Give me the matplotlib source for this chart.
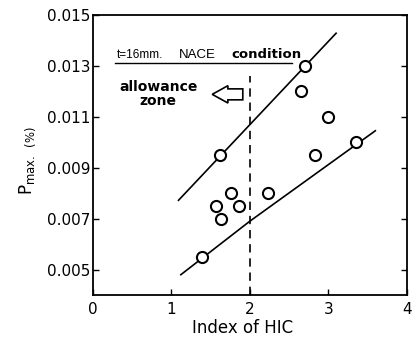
import numpy as np
import matplotlib
matplotlib.use('Agg')
import matplotlib.pyplot as plt
from matplotlib.patches import FancyArrow

plt.rcParams['font.family'] = ['DejaVu Sans']
plt.rcParams['mathtext.fontset'] = 'dejavusans'

# measured points: index of HIC vs Pmax
hic = [2.7, 2.65, 3.0, 3.35, 2.83, 1.62, 1.76, 2.23, 1.57, 1.86, 1.63, 1.39]
pmax = [0.0130, 0.0120, 0.0110, 0.0100, 0.0095, 0.0095, 0.0080, 0.0080,
        0.0075, 0.0075, 0.0070, 0.0055]

# upper and lower bounding lines
upper_x = [1.09, 3.1]
upper_y = [0.00772, 0.01428]
lower_x = [1.12, 2.0, 3.6]
lower_y = [0.0048, 0.0069, 0.01045]

xticks = [0, 1, 2, 3, 4]
yticks = [0.005, 0.007, 0.009, 0.011, 0.013, 0.015]
ytick_labels = ['0.005', '0.007', '0.009', '0.011', '0.013', '0.015']

fig = plt.figure(figsize=(4.16, 3.38), dpi=100)
ax = fig.add_axes([0.2236, 0.127, 0.754, 0.829])

ax.plot(upper_x, upper_y, color='black', lw=1.2)
ax.plot(lower_x, lower_y, color='black', lw=1.2)
ax.plot(hic, pmax, 'o', mfc='white', mec='black', mew=1.5, ms=8, zorder=3)

# allowance limit
ax.plot([2.0, 2.0], [0.004, 0.0126], color='black', lw=1.2, ls=(0, (5, 3.5)))

# condition label with underline
ax.plot([0.28, 2.54], [0.01310, 0.01310], color='black', lw=1.0)
ax.text(0.31, 0.01318, 't=16mm.', fontsize=8.5, ha='left', va='bottom',
        family=['Liberation Sans'])
ax.text(1.1, 0.01318, 'NACE', fontsize=9.5, ha='left', va='bottom',
        family=['Liberation Sans'])
ax.text(1.76, 0.01318, 'condition', fontsize=9.5, ha='left', va='bottom',
        fontweight='bold')

ax.text(0.83, 0.0119, 'allowance\nzone', fontsize=10, ha='center', va='center',
        fontweight='bold', linespacing=0.95)
ax.add_patch(FancyArrow(1.91, 0.01188, -0.39, 0, width=0.00043,
                        head_width=0.00068, head_length=0.2,
                        length_includes_head=True, fc='white', ec='black', lw=1.2))

ax.set_xlim(0, 4)
ax.set_ylim(0.004, 0.015)
ax.set_xticks(xticks)
ax.set_yticks(yticks)
ax.set_yticklabels(ytick_labels)
ax.tick_params(direction='in', length=4, width=1, labelsize=11,
               right=True, top=False)
ax.tick_params(axis='y', pad=2)
ax.tick_params(axis='x', pad=5)
for s in ax.spines.values():
    s.set_linewidth(1.3)

ax.set_xlabel('Index of HIC', fontsize=12)
ax.xaxis.set_label_coords(0.476, -0.085)
ax.set_ylabel(r'P$_{\mathrm{max.}}$ $_{(\%)}$', fontsize=12)
ax.yaxis.set_label_coords(-0.175, 0.48)

fig.savefig('out.png', dpi=100)
